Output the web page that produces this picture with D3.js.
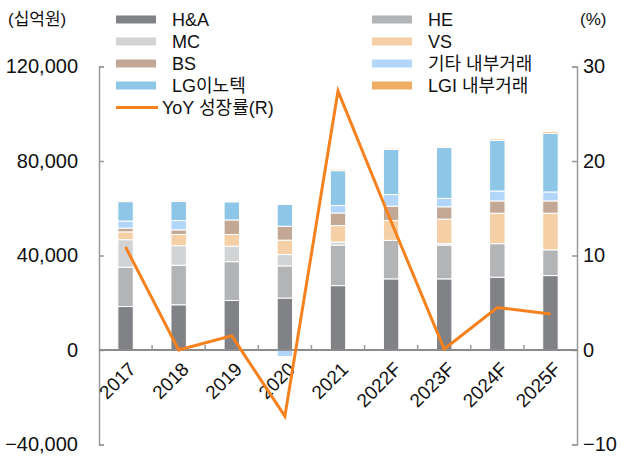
<!DOCTYPE html>
<html>
<head>
<meta charset="utf-8">
<script src="https://cdn.jsdelivr.net/npm/d3@7"></script>
<style>
  body { margin: 0; background: #fff; }
  svg text { font-family: "Liberation Sans", Arial, "Noto Sans CJK KR", sans-serif; fill: #111; }
</style>
</head>
<body>
<div id="chart"></div>
<script>
const years = ['2017', '2018', '2019', '2020', '2021', '2022F', '2023F', '2024F', '2025F'];

// 십억원
const hna = [18400, 19150, 20950, 22000, 27250, 30100, 30100, 30800, 31500];
const he = [16600, 16750, 16450, 13600, 17150, 16300, 14300, 14200, 10900];
const mc = [11700, 8250, 6550, 4800, 1300, 0, 600, 0, 0];
const vs = [3300, 4750, 4950, 6100, 6950, 8400, 10400, 12900, 15500];
const bs = [1600, 1950, 6150, 5900, 5350, 6100, 5200, 5200, 5200];
const etc = [3000, 3950, 0, -2800, 3150, 4900, 3600, 4200, 3800];
const lgit = [8200, 8050, 7600, 9200, 14750, 19100, 21500, 21400, 24800];
const lgi = [500, 300, 0, 0, 600, 500, 500, 600, 700];

// %
const yoy = [10.9, 0, 1.5, -7.0, 27.4, 13.6, 0.1, 4.5, 3.8];

const leftTicks = [-40000, 0, 40000, 80000, 120000];
const rightTicks = [-10, 0, 10, 20, 30];

const series = [
  { key: 'H&A', values: hna, color: '#808285' },
  { key: 'HE', values: he, color: '#b3b4b6' },
  { key: 'MC', values: mc, color: '#d2d3d5' },
  { key: 'VS', values: vs, color: '#f5cfa6' },
  { key: 'BS', values: bs, color: '#c3a995' },
  { key: '기타 내부거래', values: etc, color: '#b2d6fa' },
  { key: 'LG이노텍', values: lgit, color: '#8dc6e7' },
  { key: 'LGI 내부거래', values: lgi, color: '#f0ad66' }
];
const lineColor = '#f5821f';

const width = 628, height = 458;
const plotLeft = 99, plotRight = 577, plotTop = 66.5, plotBottom = 444.5;

const svg = d3.select('#chart').append('svg')
  .attr('width', width)
  .attr('height', height);

const x = d3.scaleBand().domain(years).range([plotLeft, plotRight]).paddingInner(0.71).paddingOuter(0.355);
const xStep = d3.scaleBand().domain(years).range([plotLeft, plotRight]);
const y = d3.scaleLinear().domain([-40000, 120000]).range([plotBottom, plotTop]);
const y2 = d3.scaleLinear().domain([-10, 30]).range([plotBottom, plotTop]);

const rows = years.map((yr, i) => {
  const r = { year: yr };
  series.forEach(s => { r[s.key] = s.values[i]; });
  return r;
});
const stacked = d3.stack()
  .keys(series.map(s => s.key))
  .offset(d3.stackOffsetDiverging)(rows);

// bars
svg.append('g').selectAll('g')
  .data(stacked)
  .join('g')
    .attr('fill', (d, i) => series[i].color)
  .selectAll('rect')
  .data(d => d.filter(p => p[1] !== p[0]))
  .join('rect')
    .attr('x', d => x(d.data.year))
    .attr('width', x.bandwidth())
    .attr('y', d => y(Math.max(d[0], d[1])))
    .attr('height', d => Math.abs(y(d[0]) - y(d[1])))
    .attr('stroke', '#fff')
    .attr('stroke-width', 1);

// left axis
const axisColor = '#9a9a9a';
const gl = svg.append('g').attr('transform', `translate(${plotLeft},0)`)
  .call(d3.axisLeft(y).tickValues(leftTicks).tickSize(-5).tickPadding(21).tickFormat(d3.format(',')));
gl.select('.domain').attr('stroke', axisColor).attr('stroke-width', 1.5);
gl.selectAll('.tick line').attr('stroke', axisColor).attr('stroke-width', 1.5);
gl.selectAll('.tick text').style('font-size', '20px').text(d => d < 0 ? '\u2212' + d3.format(',')(-d) : d3.format(',')(d));

// right axis
const gr = svg.append('g').attr('transform', `translate(${plotRight},0)`)
  .call(d3.axisRight(y2).tickValues(rightTicks).tickSize(-5).tickPadding(6));
gr.select('.domain').attr('stroke', axisColor).attr('stroke-width', 1.5);
gr.selectAll('.tick line').attr('stroke', axisColor).attr('stroke-width', 1.5);
gr.selectAll('.tick text').style('font-size', '20px').text(d => d < 0 ? '\u2212' + Math.abs(d) : d);

// zero line with category ticks
const gx = svg.append('g').attr('transform', `translate(0,${y(0)})`);
gx.append('line')
  .attr('x1', plotLeft).attr('x2', plotRight)
  .attr('stroke', '#8c8c8c').attr('stroke-width', 2);
gx.selectAll('.ct')
  .data(years.slice(1))
  .join('line')
    .attr('x1', d => xStep(d)).attr('x2', d => xStep(d))
    .attr('y1', 0).attr('y2', -5)
    .attr('stroke', axisColor).attr('stroke-width', 1.5);
gx.selectAll('.cl')
  .data(years)
  .join('text')
    .attr('transform', d => `translate(${xStep(d) + xStep.bandwidth() / 2 + 2},${11}) rotate(-45)`)
    .attr('text-anchor', 'end')
    .attr('dy', '0.7em')
    .style('font-size', '19px')
    .text(d => d);

// YoY line
svg.append('path')
  .datum(yoy)
  .attr('fill', 'none')
  .attr('stroke', lineColor)
  .attr('stroke-width', 3)
  .attr('d', d3.line()
    .x((d, i) => xStep(years[i]) + xStep.bandwidth() / 2)
    .y(d => y2(d)));

// unit labels
svg.append('text').attr('x', 8).attr('y', 25).style('font-size', '17px').text('(십억원)');
svg.append('text').attr('x', 580).attr('y', 25).style('font-size', '17px').text('(%)');

// legend
const legendLeft = ['H&A', 'MC', 'BS', 'LG이노텍'];
const legendRight = ['HE', 'VS', '기타 내부거래', 'LGI 내부거래'];
const rowY = [19.5, 41.5, 63.5, 85.5];
const colorOf = k => series.find(s => s.key === k).color;
const lg = svg.append('g');
[[legendLeft, 116], [legendRight, 372]].forEach(([keys, lx]) => {
  keys.forEach((k, i) => {
    lg.append('rect')
      .attr('x', lx).attr('y', rowY[i] - 4)
      .attr('width', 40).attr('height', 8)
      .attr('fill', colorOf(k));
    lg.append('text')
      .attr('x', lx + 56).attr('y', rowY[i])
      .attr('dy', '0.35em')
      .style('font-size', '18px')
      .text(k);
  });
});
lg.append('line')
  .attr('x1', 116).attr('x2', 158)
  .attr('y1', 107.5).attr('y2', 107.5)
  .attr('stroke', lineColor).attr('stroke-width', 3);
lg.append('text')
  .attr('x', 162).attr('y', 107.5)
  .attr('dy', '0.35em')
  .style('font-size', '18px')
  .text('YoY 성장률(R)');
</script>
</body>
</html>
